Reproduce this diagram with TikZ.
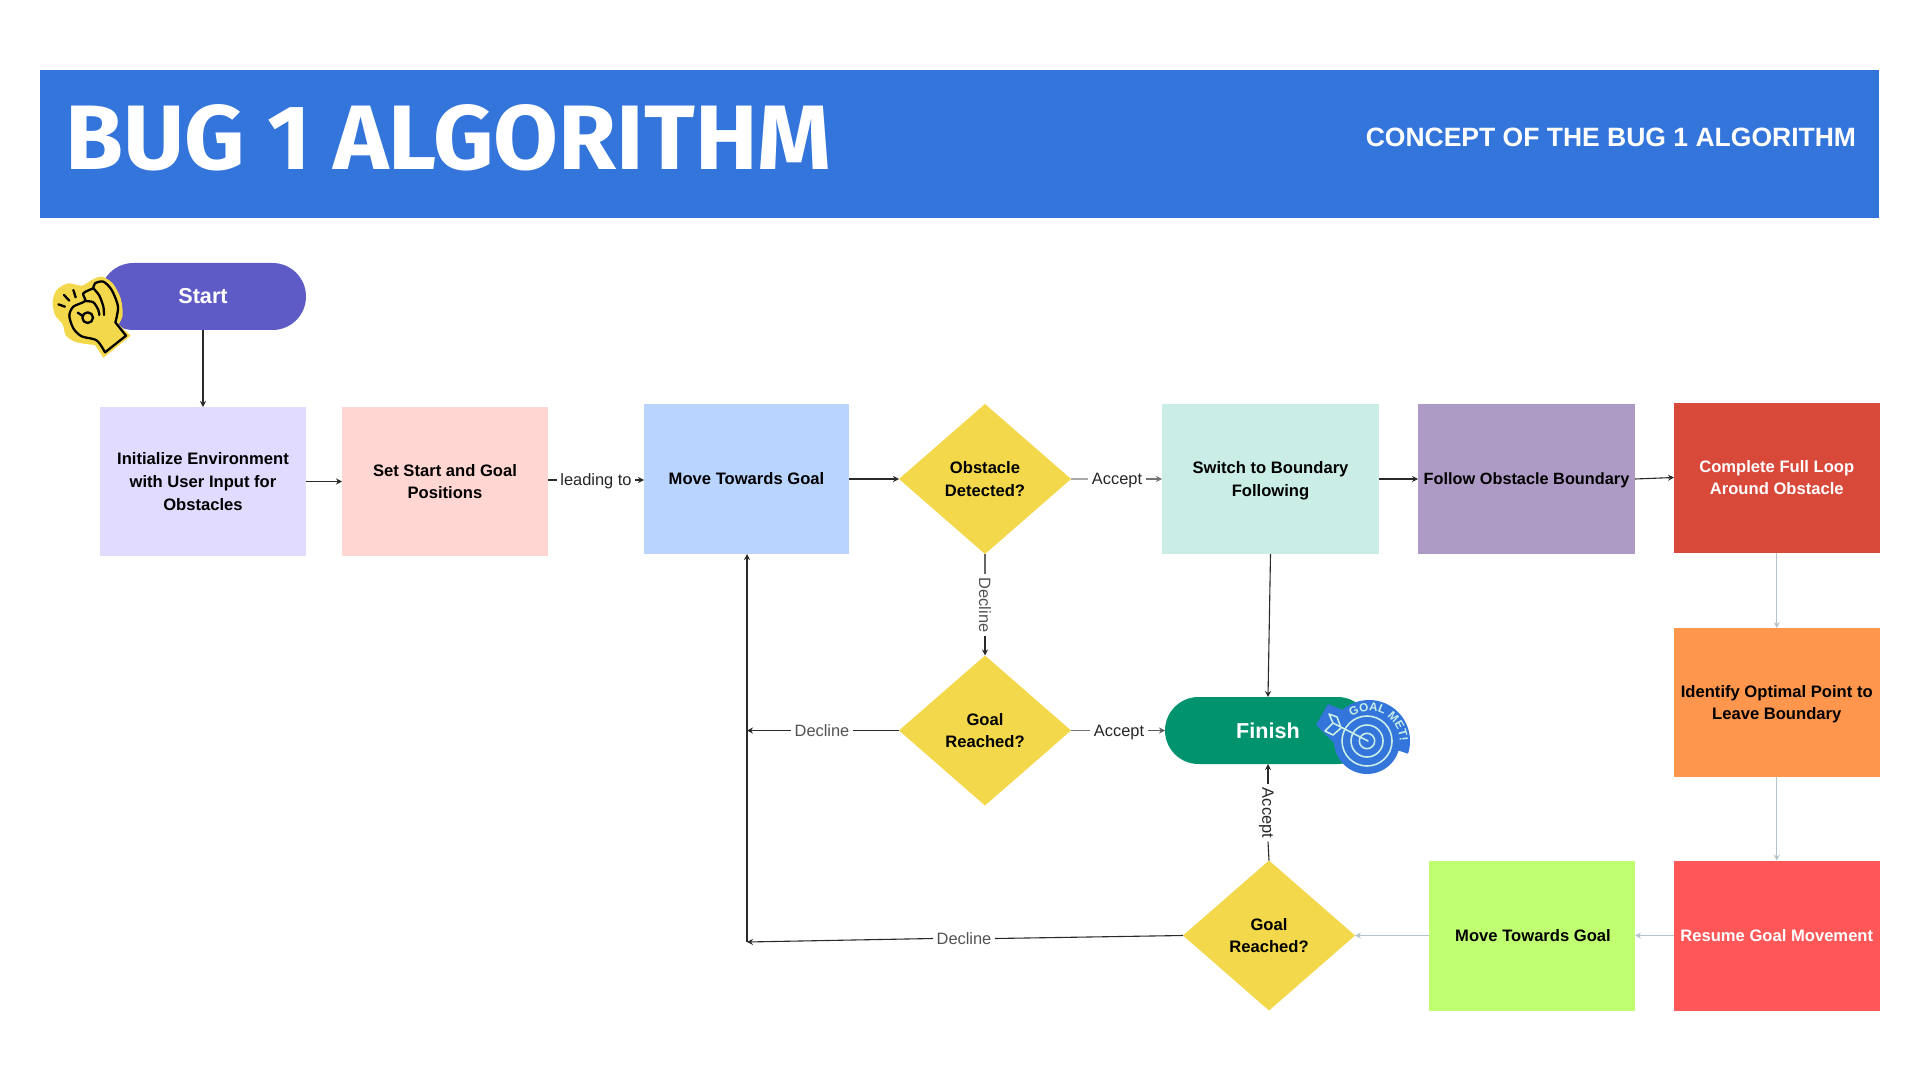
\documentclass[tikz,border=0pt]{standalone}
\usepackage{fontspec}
\setmainfont{Liberation Sans}
\newfontfamily\titlefont{Fira Sans}
\usetikzlibrary{shapes.geometric,shapes.misc,arrows.meta,decorations.text}
\definecolor{hdr}{HTML}{3375DB}
\definecolor{startc}{HTML}{5F5BC6}
\definecolor{initc}{HTML}{E0DBFF}
\definecolor{setc}{HTML}{FFD6D1}
\definecolor{movec}{HTML}{B9D5FF}
\definecolor{dia}{HTML}{F4D84B}
\definecolor{switchc}{HTML}{CAEEE6}
\definecolor{followc}{HTML}{AE9BC5}
\definecolor{compc}{HTML}{D9493A}
\definecolor{identc}{HTML}{FF964D}
\definecolor{resumec}{HTML}{FF5757}
\definecolor{movetwo}{HTML}{C1FF72}
\definecolor{finishc}{HTML}{00936E}
\definecolor{bluegrey}{HTML}{B4C2CC}
\definecolor{linec}{HTML}{2A2A2A}
\definecolor{lgrey}{HTML}{A8A8A8}
\definecolor{mint}{HTML}{C8EEE6}
\tikzset{
  x=0.5pt,y=-0.5pt,
  every node/.style={inner sep=0pt,outer sep=0pt},
  boxtext/.style={font=\fontsize{8.3}{11.4}\selectfont\bfseries,align=center,text=black},
  procbox/.style={boxtext,rectangle,draw=none},
  decis/.style={boxtext,diamond,fill=dia,minimum width=86pt,minimum height=75pt},
  pill/.style={rounded rectangle,text=white,font=\fontsize{10.8}{13}\selectfont\bfseries,minimum width=103pt,minimum height=33.5pt},
  conn/.style={line width=0.55pt,draw=linec,-{Stealth[length=3pt,width=3pt,inset=1pt]}},
  plain/.style={line width=0.55pt,draw=linec},
  softconn/.style={conn,draw=bluegrey},
  lab/.style={fill=white,inner xsep=1.8pt,inner ysep=1pt,text depth=0pt,font=\fontsize{8.2}{10}\selectfont,text=black!85},
  labgrey/.style={lab,text=black!68},
  handline/.style={line width=1.15pt,draw=black,line cap=round,line join=round},
}
\begin{document}
\begin{tikzpicture}
\useasboundingbox (0,0) rectangle (1920,1080);
\fill[white] (0,0) rectangle (1920,1080);
% header
\node[fill=hdr,minimum width=919.5pt,minimum height=74pt,anchor=north west] (header) at (40,70) {};
\node[anchor=base west,text=white] (title) at (65.5,170) {\resizebox{383pt}{32.5pt}{\titlefont\bfseries BUG 1 ALGORITHM}};
\node[anchor=base east,text=white,font=\fontsize{13.25}{16}\selectfont\bfseries] (subtitle) at (1856,146.5) {CONCEPT OF THE BUG 1 ALGORITHM};
% nodes
\node[pill,fill=startc] (start) at (203,296.5) {Start};
\node[procbox,fill=initc,minimum width=103pt,minimum height=74.5pt] (init) at (203,481.5) {Initialize Environment\\with User Input for\\Obstacles};
\node[procbox,fill=setc,minimum width=103pt,minimum height=74.5pt] (setpos) at (445,481.5) {Set Start and Goal\\Positions};
\node[procbox,fill=movec,minimum width=102.5pt,minimum height=75pt] (move) at (746.5,479) {Move Towards Goal};
\node[decis] (obst) at (985,479) {Obstacle\\Detected?};
\node[procbox,text depth=0pt,fill=switchc,minimum width=108.5pt,minimum height=75pt] (switch) at (1270.5,479) {Switch to Boundary\\Following};
\node[procbox,text depth=0pt,fill=followc,font=\fontsize{8.15}{11.4}\selectfont\bfseries,minimum width=108.5pt,minimum height=75pt] (follow) at (1526.5,479) {Follow Obstacle Boundary};
\node[procbox,fill=compc,text=white,minimum width=102.75pt,minimum height=75pt] (comp) at (1776.75,477.5) {Complete Full Loop\\Around Obstacle};
\node[procbox,text depth=0pt,fill=identc,minimum width=102.75pt,minimum height=74.5pt] (ident) at (1776.75,702.5) {Identify Optimal Point to\\Leave Boundary};
\node[procbox,fill=resumec,text=white,minimum width=102.75pt,minimum height=75pt] (resume) at (1776.75,935.5) {Resume Goal Movement};
\node[procbox,fill=movetwo,minimum width=103pt,minimum height=75pt] (movetwob) at (1532,935.5) {\hspace{1pt}Move Towards Goal};
\node[decis] (goaltwo) at (985,730.5) {Goal\\Reached?};
\node[decis] (goalthree) at (1269,935.5) {Goal\\Reached?};
\node[pill,fill=finishc] (finish) at (1268,730.5) {Finish};
% free ends
\coordinate (jtwo) at (747,730.5);
\coordinate (jone) at (747,942);
% labels
\node[lab] (llead) at (596,480) {leading to};
\node[lab] (lacc) at (1117,479) {Accept};
\node[labgrey,rotate=-90] (ldec) at (985,605) {Decline};
\node[labgrey] (ldectwo) at (822,730.5) {Decline};
\node[lab] (lacctwo) at (1119,730.5) {Accept};
\node[labgrey] (ldecthree) at (964,938.5) {Decline};
\node[lab,rotate=-90] (lacctwoup) at (1268,813) {Accept};
% connectors
\draw[conn] (start.south) -- (init.north);
\draw[conn] (init.east) -- (setpos.west);
\draw[plain] (setpos.east|-llead.west) -- (llead.west);
\draw[conn] (llead.east) -- (move.west|-llead.east);
\draw[conn] (move.east) -- (obst.west);
\draw[plain,draw=lgrey] (obst.east) -- (lacc.west);
\draw[conn,draw=black!55] (lacc.east) -- (switch.west);
\draw[conn] (switch.east) -- (follow.west);
\draw[conn] (follow.east) -- (comp.west);
\draw[plain,draw=black!60] (obst.south) -- (ldec.west);
\draw[conn] (ldec.east) -- (goaltwo.north);
\draw[conn] (switch.south) -- (finish.north);
\draw[plain] (goaltwo.west) -- (ldectwo.east);
\draw[conn] (ldectwo.west) -- (jtwo);
\draw[plain,draw=black!55] (goaltwo.east) -- (lacctwo.west);
\draw[conn,draw=black!65] (lacctwo.east) -- (finish.west);
\draw[plain] (goalthree.north) -- (lacctwoup.east);
\draw[conn] (lacctwoup.west) -- (finish.south);
\draw[plain] (goalthree.west) -- (ldecthree.east);
\draw[conn] (ldecthree.west) -- (jone);
\draw[conn] (jone) -- (move.south-|jone);
\draw[softconn] (comp.south) -- (ident.north);
\draw[softconn] (ident.south) -- (resume.north);
\draw[softconn] (resume.west) -- (movetwob.east);
\draw[softconn] (movetwob.west) -- (goalthree.east);
% hand sticker
\begin{scope}[shift={(40,265)},x=0.1667pt,y=-0.1667pt]
\fill[dia] (272,212) -- (190,278) -- plot[smooth] coordinates {(165,240) (110,232) (78,212) (68,178) (45,150) (38,110) (50,75) (85,55) (125,62) (155,45) (185,35) (218,55) (242,100) (248,150) (236,178)} -- cycle;
\draw[handline] (195,262) -- (258,212) -- plot[smooth] coordinates {(226,172) (234,125) (215,75) (190,50) (165,55) (160,70)};
\draw[handline] plot[smooth] coordinates {(195,262) (170,226) (125,214) (100,190) (88,152) (100,125) (135,108) (130,85) (160,70)};
\draw[handline] plot[smooth] coordinates {(160,70) (178,92) (190,125) (192,150)};
\draw[handline] plot[smooth] coordinates {(135,108) (160,112) (175,135) (178,150)};
\draw[handline] (143,158) circle[radius=16];
\draw[handline] (127,152) -- (113,143);
\draw[handline] (55,118) -- (75,125);
\draw[handline] (72,90) -- (88,107);
\draw[handline] (100,75) -- (107,97);
\end{scope}
% target sticker
\fill[hdr] (1316,725) -- (1328,704) -- (1345,711) -- (1362,722) -- (1345,750) -- (1333,742) -- cycle;
\fill[hdr] (1367,741) circle[radius=33];
\begin{scope}[shift={(1369,741)},x=0.5pt,y=0.5pt]
\fill[hdr] (0,0) -- (140:41) arc[start angle=140,end angle=-18,radius=41] -- cycle;
\end{scope}
\begin{scope}[draw=mint,line width=0.8pt]
\draw (1367,741) circle[radius=25];
\draw (1367,741) circle[radius=16];
\draw (1367,741) circle[radius=7.7];
\draw[line cap=round] (1368,741) -- (1333,723);
\draw[line join=round] (1341,728) -- (1337,717) -- (1329,714) -- (1333,723);
\draw[line join=round] (1341,728) -- (1333,735) -- (1325,731) -- (1333,723);
\end{scope}
\begin{scope}[shift={(1369,742)},x=0.5pt,y=0.5pt]
\path[decorate,decoration={text along path,text align=center,text={|\fontsize{5.9}{7}\selectfont\bfseries\color{mint}|GOAL MET!}}]
  (132:31) arc[start angle=132,end angle=-6,radius=31];
\end{scope}
\end{tikzpicture}
\end{document}
